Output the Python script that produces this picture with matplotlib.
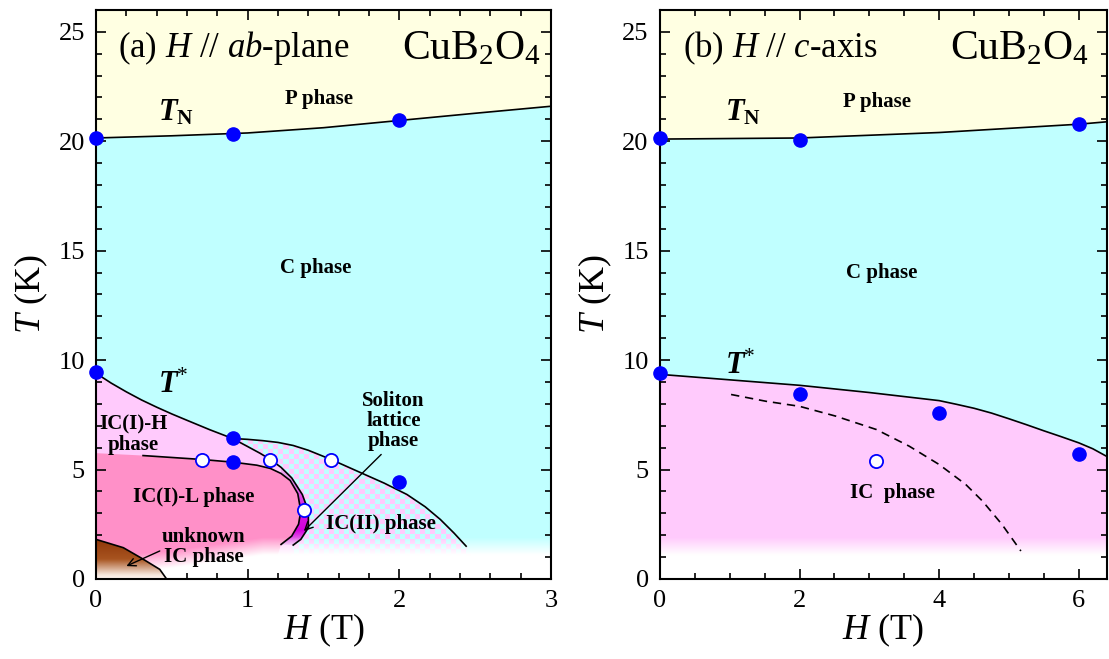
import numpy as np
import matplotlib
matplotlib.use('Agg')
import matplotlib.pyplot as plt
from matplotlib.patches import Polygon
from matplotlib.colors import to_rgba
from matplotlib.ticker import MultipleLocator

plt.rcParams['font.family'] = 'Liberation Serif'
plt.rcParams['mathtext.fontset'] = 'custom'
plt.rcParams['mathtext.rm'] = 'Liberation Serif'
plt.rcParams['mathtext.it'] = 'Liberation Serif:italic'
plt.rcParams['mathtext.bf'] = 'Liberation Serif:bold'
plt.rcParams['mathtext.bfit'] = 'Liberation Serif:bold:italic'

# ---- panel (a) H // ab-plane ----
tn_a_h = [0.0, 0.5, 1.0, 1.5, 2.0, 2.5, 3.0]
tn_a_t = [20.15, 20.25, 20.38, 20.62, 20.95, 21.28, 21.6]
tstar_a_h = [0.0, 0.1, 0.2, 0.3, 0.4, 0.5, 0.6, 0.75, 0.9]
tstar_a_t = [9.4, 8.95, 8.55, 8.18, 7.85, 7.54, 7.25, 6.82, 6.42]
outer_a_h = [0.9, 1.0, 1.1, 1.2, 1.3, 1.4, 1.55, 1.77, 1.9, 2.05, 2.17, 2.27, 2.36, 2.44]
outer_a_t = [6.42, 6.38, 6.32, 6.24, 6.1, 5.88, 5.46, 4.78, 4.38, 3.86, 3.3, 2.72, 2.1, 1.5]
inner_a_h = [0.9, 1.0, 1.08, 1.15, 1.22, 1.29, 1.36, 1.40, 1.40, 1.35, 1.30]
inner_a_t = [6.42, 6.05, 5.75, 5.46, 5.1, 4.62, 3.86, 3.10, 2.34, 1.81, 1.55]
low_a_h = [0.31, 0.7, 0.9, 1.06, 1.15, 1.22, 1.28, 1.33, 1.35, 1.335, 1.29, 1.22]
low_a_t = [5.64, 5.46, 5.34, 5.2, 5.05, 4.82, 4.5, 3.9, 3.1, 2.5, 1.96, 1.58]
brown_h = [0.0, 0.18, 0.30, 0.42, 0.46]
brown_t = [1.81, 1.43, 0.95, 0.44, 0.05]
full_a_h = [0.0, 0.9, 2.0, 0.0, 0.9, 0.9, 2.0]
full_a_t = [20.15, 20.32, 20.95, 9.45, 6.45, 5.35, 4.45]
open_a_h = [0.7, 1.15, 1.55, 1.37]
open_a_t = [5.45, 5.45, 5.45, 3.13]

# ---- panel (b) H // c-axis ----
tn_b_h = [0.0, 2.0, 4.0, 6.0, 6.4]
tn_b_t = [20.1, 20.15, 20.4, 20.78, 20.89]
tstar_b_h = [0.0, 1.0, 2.0, 3.0, 4.0, 4.25, 4.5, 4.75, 5.0, 5.25, 5.5, 5.75, 6.0, 6.2, 6.4]
tstar_b_t = [9.35, 9.1, 8.85, 8.52, 8.15, 7.98, 7.8, 7.58, 7.32, 7.05, 6.77, 6.5, 6.22, 5.95, 5.6]
dash_b_h = [1.02, 1.52, 2.0, 2.52, 3.1, 3.57, 4.0, 4.38, 4.62, 4.9, 5.17]
dash_b_t = [8.43, 8.12, 7.89, 7.44, 6.83, 6.07, 5.23, 4.32, 3.56, 2.49, 1.28]
full_b_h = [0.0, 2.0, 6.0, 0.0, 2.0, 4.0, 6.0]
full_b_t = [20.15, 20.05, 20.8, 9.4, 8.47, 7.6, 5.7]
open_b_h = [3.1]
open_b_t = [5.4]

YELLOW = '#FFFFE2'
CYAN = '#C0FFFF'
PINK = '#FFCAFC'
HOTPINK = '#FF90C8'
BLUE = '#0000FF'


def clip_to(ax, artist, xy):
    p = Polygon(xy, closed=True, transform=ax.transData, fc='none', ec='none')
    ax.add_patch(p)
    artist.set_clip_path(p)


def vgrad(ax, stops, colors, x0, x1, y0, y1, xy, z):
    ys = np.linspace(y0, y1, 300)
    cols = np.array([to_rgba(c) for c in colors])
    img = np.stack([np.interp(ys, stops, cols[:, k]) for k in range(4)], axis=-1)[:, None, :]
    im = ax.imshow(img, extent=[x0, x1, y0, y1], origin='lower', aspect='auto',
                   interpolation='bilinear', zorder=z)
    clip_to(ax, im, xy)


def white_fade(ax, xmax, fade_h, fade_top, width):
    hs = np.linspace(0, xmax, 400)
    ts = np.linspace(0, 3, 200)
    top = np.interp(hs, fade_h, fade_top)
    a = np.clip((top[None, :] - ts[:, None]) / width, 0, 1)
    img = np.ones((len(ts), len(hs), 4))
    img[..., 3] = a
    ax.imshow(img, extent=[0, xmax, 0, 3], origin='lower', aspect='auto',
              interpolation='bilinear', zorder=1.5)


def style(ax, xmax, xmaj, xmin):
    ax.set_xlim(0, xmax)
    ax.set_ylim(0, 26)
    ax.xaxis.set_major_locator(MultipleLocator(xmaj))
    ax.xaxis.set_minor_locator(MultipleLocator(xmin))
    ax.yaxis.set_major_locator(MultipleLocator(5))
    ax.yaxis.set_minor_locator(MultipleLocator(1))
    ax.tick_params(which='both', direction='in', top=True, right=True, width=1.2,
                   labelsize=19, pad=8)
    ax.tick_params(which='major', length=7)
    ax.tick_params(which='minor', length=4)
    for s in ax.spines.values():
        s.set_linewidth(1.5)
    ax.set_xlabel(r'$H$ (T)', fontsize=26, labelpad=0)
    ax.set_ylabel(r'$T$ (K)', fontsize=26, labelpad=6)


fig = plt.figure(figsize=(11.09, 6.59), dpi=100)
axa = fig.add_axes([0.0866, 0.1214, 0.4103, 0.8635])
axb = fig.add_axes([0.595, 0.1214, 0.403, 0.8635])

# ================= panel (a) =================
ax = axa
ax.set_facecolor(CYAN)
ax.fill_between(tn_a_h, tn_a_t, 26, color=YELLOW, lw=0, zorder=1)

# checkered IC(II) region
n_t, n_h = 114, 90
board = np.add.outer(np.arange(n_t), np.arange(n_h)) % 2
chk = np.where(board[..., None] == 1, to_rgba(PINK), to_rgba(CYAN))
im = ax.imshow(chk, extent=[0, 3, 0, 26], origin='lower', aspect='auto',
               interpolation='nearest', zorder=1)
out_xy = list(zip(tstar_a_h, tstar_a_t)) + list(zip(outer_a_h, outer_a_t)) + [(2.55, 0), (0, 0)]
clip_to(ax, im, out_xy)

# IC(I)-H light pink
in_xy = list(zip(tstar_a_h, tstar_a_t)) + list(zip(inner_a_h, inner_a_t)) + [(1.25, 0), (0, 0)]
ax.add_patch(Polygon(in_xy, closed=True, fc=PINK, ec='none', zorder=1.1))

# IC(I)-L pink
low_xy = [(0, 5.75)] + list(zip(low_a_h, low_a_t)) + [(1.15, 0), (0, 0)]
ax.add_patch(Polygon(low_xy, closed=True, fc=HOTPINK, ec='none', zorder=1.2))

# soliton lattice sliver
ih, it = np.array(inner_a_h), np.array(inner_a_t)
lh, lt = np.array(low_a_h), np.array(low_a_t)
m1, m2 = it <= 5.1, lt <= 4.9
sl_xy = list(zip(ih[m1], it[m1])) + list(zip(lh[m2][::-1], lt[m2][::-1]))
vgrad(ax, [1.4, 2.2, 3.3, 4.5, 5.2], ['#F4C8F4', '#D400DC', '#D820E0', '#E890EC', '#F0B8F0'],
      1.1, 1.5, 1.4, 5.3, sl_xy, 1.3)

white_fade(ax, 3, [0.0, 0.5, 1.1, 3.0], [1.0, 1.3, 1.9, 1.9], 0.8)

# unknown IC phase (brown)
br_xy = list(zip(brown_h, brown_t)) + [(0.47, 0), (0, 0)]
vgrad(ax, [0.0, 0.2, 0.9, 1.9], ['#FFF8F4', '#F4E4DA', '#A85420', '#8C3406'],
      0, 0.5, 0, 1.9, br_xy, 1.6)

lk = dict(color='k', lw=1.2, zorder=3)
ax.plot(tn_a_h, tn_a_t, **lk)
ax.plot(tstar_a_h, tstar_a_t, **lk)
ax.plot(outer_a_h, outer_a_t, **lk)
ax.plot(inner_a_h, inner_a_t, **lk)
ax.plot(low_a_h, low_a_t, **lk)
ax.plot(brown_h, brown_t, **lk)
ax.plot(full_a_h, full_a_t, 'o', ms=9.5, color=BLUE, mec=BLUE, zorder=4, clip_on=False)
ax.plot(open_a_h, open_a_t, 'o', ms=9.5, mfc='white', mec=BLUE, mew=1.3, zorder=4)

ax.text(0.145, 23.85, r'(a) $H$ // $ab$-plane', fontsize=25, ha='left', va='baseline')
ax.text(2.935, 23.75, r'CuB$_2$O$_4$', fontsize=30, ha='right', va='baseline')
ax.text(0.41, 20.95, r'$\mathbfit{T}_\mathbf{N}$', fontsize=22, ha='left', va='baseline')
ax.text(0.41, 8.5, r'$\mathbfit{T}^{*}$', fontsize=22, ha='left', va='baseline')
bold = dict(fontsize=15, fontweight='bold', ha='center', va='center', linespacing=1.0, zorder=5)
ax.text(1.47, 21.95, 'P phase', **bold)
ax.text(1.45, 14.23, 'C phase', **bold)
ax.text(0.245, 6.6, 'IC(I)-H\nphase', **bold)
ax.text(0.645, 3.74, 'IC(I)-L phase', **bold)
ax.text(0.71, 1.46, 'unknown\nIC phase', **bold)
ax.text(1.96, 7.2, 'Soliton\nlattice\nphase', **bold)
ax.text(1.88, 2.51, 'IC(II) phase', **bold)
ap = dict(arrowstyle='->', lw=1.0, color='k', mutation_scale=14, shrinkA=0, shrinkB=0)
ax.annotate('', xy=(1.37, 2.19), xytext=(1.88, 5.69), arrowprops=ap, zorder=5)
ax.annotate('', xy=(0.2, 0.59), xytext=(0.42, 1.28), arrowprops=ap, zorder=5)
style(ax, 3, 1, 0.2)

# ================= panel (b) =================
ax = axb
ax.set_facecolor(CYAN)
ax.fill_between(tn_b_h, tn_b_t, 26, color=YELLOW, lw=0, zorder=1)
ax.fill_between(tstar_b_h, 0, tstar_b_t, color=PINK, lw=0, zorder=1)
white_fade(ax, 6.4, [0.0, 6.4], [1.9, 1.9], 0.8)
ax.plot(tn_b_h, tn_b_t, **lk)
ax.plot(tstar_b_h, tstar_b_t, **lk)
ax.plot(dash_b_h, dash_b_t, color='k', lw=1.2, ls=(0, (5, 3.5)), zorder=3)
ax.plot(full_b_h, full_b_t, 'o', ms=9.5, color=BLUE, mec=BLUE, zorder=4, clip_on=False)
ax.plot(open_b_h, open_b_t, 'o', ms=9.5, mfc='white', mec=BLUE, mew=1.3, zorder=4)

ax.text(0.33, 23.85, r'(b) $H$ // $c$-axis', fontsize=25, ha='left', va='baseline')
ax.text(6.14, 23.75, r'CuB$_2$O$_4$', fontsize=30, ha='right', va='baseline')
ax.text(0.93, 20.95, r'$\mathbfit{T}_\mathbf{N}$', fontsize=22, ha='left', va='baseline')
ax.text(0.93, 9.35, r'$\mathbfit{T}^{*}$', fontsize=22, ha='left', va='baseline')
ax.text(3.11, 21.8, 'P phase', **bold)
ax.text(3.17, 13.96, 'C phase', **bold)
ax.text(3.33, 3.92, 'IC  phase', **bold)
style(ax, 6.4, 2, 0.5)

fig.savefig('out.png', dpi=100)
